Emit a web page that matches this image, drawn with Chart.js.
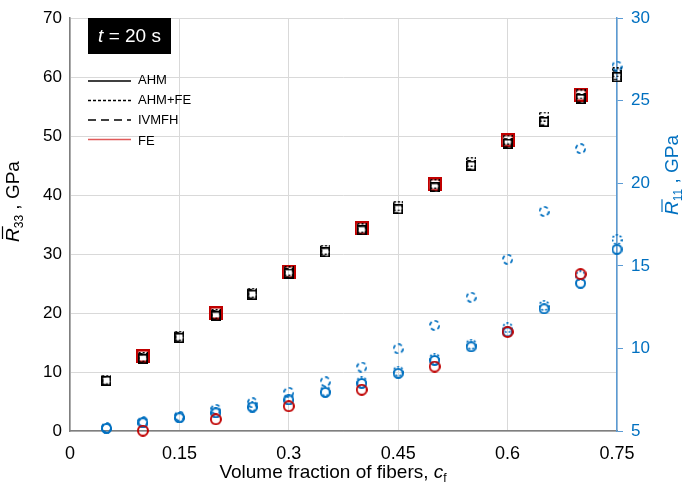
<!DOCTYPE html>
<html><head><meta charset="utf-8">
<script src="https://cdn.jsdelivr.net/npm/chart.js@4.4.0/dist/chart.umd.min.js"></script>
<style>html,body{margin:0;padding:0;background:#fff;}canvas{display:block;}</style>
</head><body>
<canvas id="c" width="685" height="495"></canvas>
<script>
// ---- data ----
const cf   = [0.05,0.1,0.15,0.2,0.25,0.3,0.35,0.4,0.45,0.5,0.55,0.6,0.65,0.7,0.75];
const cfFE = [0.1,0.2,0.3,0.4,0.5,0.6,0.7];
const r33AHM   = [8.5,12.2,15.8,19.5,23.1,26.7,30.3,34.0,37.6,41.3,45.0,48.7,52.4,56.3,60.0];
const r33AHMFE = [8.7,12.5,16.1,19.8,23.4,27.1,30.7,34.4,38.1,41.9,45.6,49.4,53.3,57.1,60.8];
const r33IVMFH = [8.5,12.3,15.9,19.6,23.2,26.8,30.4,34.1,37.7,41.4,45.1,48.9,52.6,56.5,60.3];
const r33FE    = [12.7,20.0,27.0,34.4,41.8,49.3,57.0];
const r11AHM   = [5.16,5.5,5.8,6.1,6.45,6.88,7.34,7.88,8.49,9.27,10.1,11.0,12.4,13.95,16.0];
const r11AHMFE = [5.17,5.52,5.83,6.15,6.5,6.93,7.42,7.98,8.62,9.4,10.25,11.25,12.6,14.4,16.6];
const r11IVMFH = [5.2,5.56,5.9,6.31,6.71,7.34,7.98,8.87,9.98,11.4,13.1,15.4,18.3,22.1,27.1];
const r11FE    = [5.02,5.71,6.5,7.5,8.9,11.0,14.5];
const xTicks = [0,0.15,0.3,0.45,0.6,0.75];
const xTickLabels = ['0','0.15','0.3','0.45','0.6','0.75'];
const legendLabels = ['AHM','AHM+FE','IVMFH','FE'];
const boxLabel = ['t',' = 20 s'];

// ---- styles ----
const FONT = '"Liberation Sans", Arial, sans-serif';
const BLUE = '#0070C0';
const RED = '#C00000';
const DASH_SHORT = [2,2];
const DASH_LONG = [4,3];

function marker(shape, size, lw, color, dash){
  const c = document.createElement('canvas');
  c.width = size; c.height = size;
  const g = c.getContext('2d');
  g.strokeStyle = color; g.lineWidth = lw; g.setLineDash(dash);
  if (shape === 'square') g.strokeRect(lw/2, lw/2, size-lw, size-lw);
  else { g.beginPath(); g.arc(size/2, size/2, (size-lw)/2, 0, Math.PI*2); g.stroke(); }
  return c;
}
const xy = (xs, ys) => xs.map((x,i) => ({x, y: ys[i]}));

function ds(label, xs, ys, axis, style, order){
  return {label, data: xy(xs, ys), yAxisID: axis, pointStyle: style, pointRadius: 6, pointHoverRadius: 6, showLine: false, order, clip: false};
}

const datasets = [
  ds('FE R33', cfFE, r33FE, 'y', marker('square', 14, 2.5, RED, []), 10),
  ds('AHM R33', cf, r33AHM, 'y', marker('square', 10, 1.6, '#000', []), 4),
  ds('AHM+FE R33', cf, r33AHMFE, 'y', marker('square', 10, 1.4, '#000', DASH_SHORT), 5),
  ds('IVMFH R33', cf, r33IVMFH, 'y', marker('square', 10, 1.5, '#000', DASH_LONG), 6),
  ds('AHM R11', cf, r11AHM, 'y2', marker('circle', 11, 2, BLUE, []), 1),
  ds('AHM+FE R11', cf, r11AHMFE, 'y2', marker('circle', 11, 1.8, BLUE, DASH_SHORT), 2),
  ds('IVMFH R11', cf, r11IVMFH, 'y2', marker('circle', 11, 1.8, BLUE, DASH_LONG), 3),
  ds('FE R11', cfFE, r11FE, 'y2', marker('circle', 12, 2, RED, []), 0)
];

function drawRTitle(ctx, x, y, sub, color){
  ctx.save();
  ctx.translate(x, y);
  ctx.rotate(-Math.PI/2);
  ctx.fillStyle = color; ctx.strokeStyle = color;
  ctx.textBaseline = 'alphabetic';
  ctx.font = 'italic 19px ' + FONT;
  ctx.fillText('R', 0, 0);
  const wR = ctx.measureText('R').width;
  ctx.lineWidth = 1.2;
  ctx.beginPath(); ctx.moveTo(3, -16); ctx.lineTo(wR + 2, -16); ctx.stroke();
  ctx.font = '12px ' + FONT;
  ctx.fillText(sub, wR, 4);
  const wS = ctx.measureText(sub).width;
  ctx.font = '19px ' + FONT;
  ctx.fillText(' , GPa', wR + wS, 0);
  ctx.restore();
}

const deco = {
  id: 'deco',
  afterDraw(chart){
    const ctx = chart.ctx;
    ctx.save();
    // t = 20 s box
    ctx.fillStyle = '#000';
    ctx.fillRect(88, 18, 83, 36);
    ctx.fillStyle = '#fff';
    ctx.textBaseline = 'alphabetic';
    ctx.font = 'italic 19px ' + FONT;
    const w1 = ctx.measureText(boxLabel[0]).width;
    ctx.font = '19px ' + FONT;
    const w2 = ctx.measureText(boxLabel[1]).width;
    let sx = 129.5 - (w1 + w2)/2;
    ctx.font = 'italic 19px ' + FONT;
    ctx.fillText(boxLabel[0], sx, 42);
    ctx.font = '19px ' + FONT;
    ctx.fillText(boxLabel[1], sx + w1, 42);
    // legend
    const rows = [81, 100.5, 120, 139.5];
    const tRows = [80, 100.5, 120.5, 141.5];
    const dashes = [[], [3,2], [8,5], []];
    const cols = ['#000','#000','#000','#E05A5A'];
    ctx.lineWidth = 1.5;
    for (let i = 0; i < 4; i++){
      ctx.strokeStyle = cols[i];
      ctx.setLineDash(dashes[i]);
      ctx.beginPath(); ctx.moveTo(88, rows[i]); ctx.lineTo(131, rows[i]); ctx.stroke();
    }
    ctx.setLineDash([]);
    ctx.fillStyle = '#000';
    ctx.font = '13px ' + FONT;
    ctx.textBaseline = 'middle';
    for (let i = 0; i < 4; i++) ctx.fillText(legendLabels[i], 138, tRows[i]);
    // x title
    ctx.textBaseline = 'alphabetic';
    ctx.font = '19px ' + FONT;
    const base = 'Volume fraction of fibers, ';
    const wb = ctx.measureText(base).width;
    ctx.font = 'italic 19px ' + FONT;
    const wc = ctx.measureText('c').width;
    ctx.font = '12px ' + FONT;
    const wf = ctx.measureText('f').width;
    let tx = 333 - (wb + wc + wf)/2;
    ctx.font = '19px ' + FONT;
    ctx.fillText(base, tx, 478);
    ctx.font = 'italic 19px ' + FONT;
    ctx.fillText('c', tx + wb, 478);
    ctx.font = '12px ' + FONT;
    ctx.fillText('f', tx + wb + wc, 482);
    ctx.restore();
    // y titles
    drawRTitle(ctx, 18.5, 242, '33', '#000');
    drawRTitle(ctx, 678, 215, '11', BLUE);
  }
};

new Chart(document.getElementById('c'), {
  type: 'scatter',
  data: {datasets},
  options: {
    responsive: false,
    animation: false,
    layout: {padding: {top: 11, left: 0, right: 0, bottom: 0}},
    plugins: {legend: {display: false}, tooltip: {enabled: false}},
    scales: {
      x: {
        type: 'linear', min: 0, max: 0.75,
        afterBuildTicks: s => { s.ticks = xTicks.map(v => ({value: v})); },
        afterFit: s => { s.height = 64; },
        ticks: {font: {family: FONT, size: 18}, color: '#000', padding: 12,
                callback: (v, i) => xTickLabels[i]},
        grid: {color: '#d9d9d9', drawTicks: false, lineWidth: 1},
        border: {color: '#7f7f7f', width: 1.5}
      },
      y: {
        position: 'left', min: 0, max: 70,
        afterFit: s => { s.width = 70; },
        ticks: {stepSize: 10, font: {family: FONT, size: 17}, color: '#000', padding: 8},
        grid: {color: '#d9d9d9', drawTicks: false, lineWidth: 1},
        border: {color: '#7f7f7f', width: 1.5}
      },
      y2: {
        position: 'right', min: 5, max: 30,
        afterFit: s => { s.width = 68; },
        ticks: {stepSize: 5, font: {family: FONT, size: 17}, color: BLUE, padding: 8},
        grid: {drawOnChartArea: false, drawTicks: true, tickLength: 6, tickColor: '#5B9BD5', color: '#5B9BD5'},
        border: {color: '#5B9BD5', width: 1.5}
      }
    }
  },
  plugins: [deco]
});
</script>
</body></html>
